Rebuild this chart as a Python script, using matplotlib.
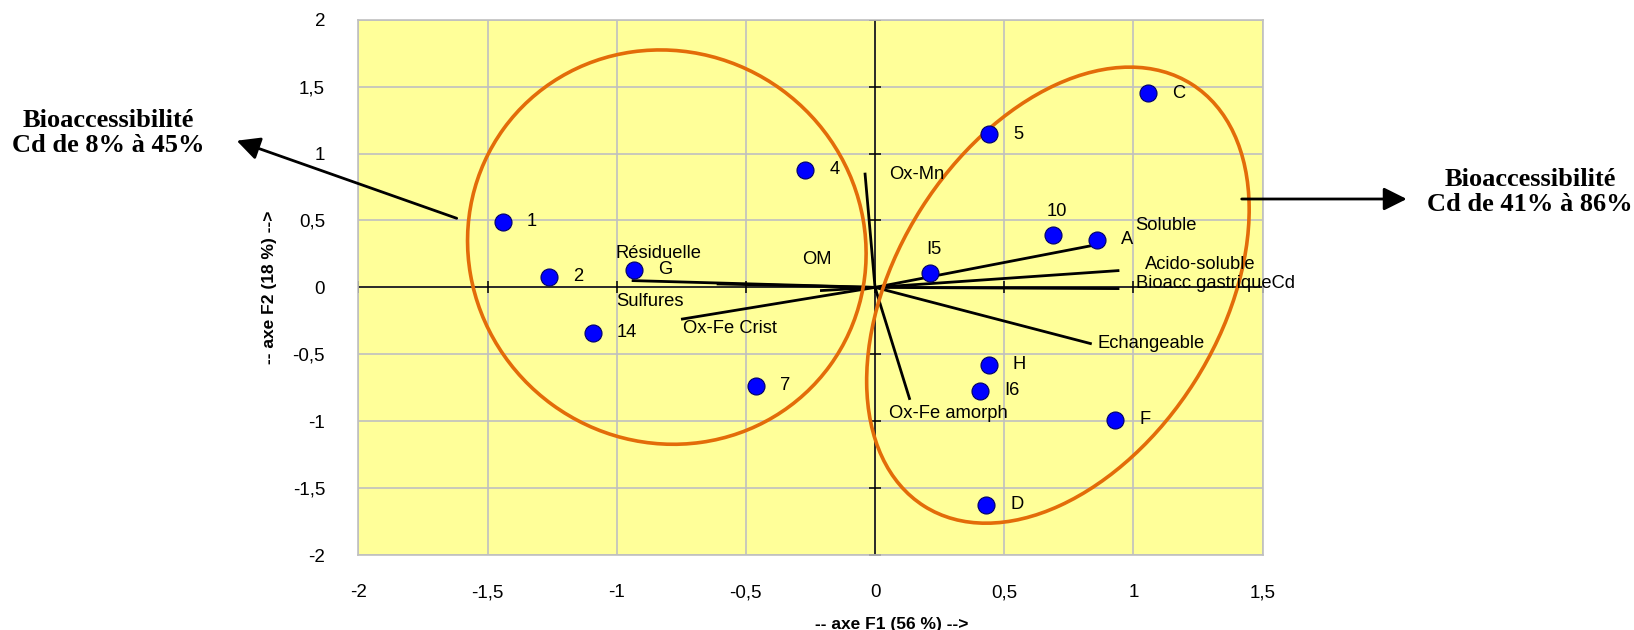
"""
ACP plot: samples and variables on F1/F2, with the two bioaccessibility groups.
"""

import matplotlib.pyplot as plt
from matplotlib.patches import Ellipse, FancyArrowPatch
from matplotlib import transforms

# samples (observations)
sample_names = ["1", "2", "G", "14", "7", "4", "5", "C", "10", "A", "I5", "H", "I6", "F", "D"]
sample_f1 = [-1.441, -1.262, -0.932, -1.093, -0.462, -0.271, 0.441, 1.056, 0.688, 0.859, 0.213, 0.440, 0.405, 0.929, 0.431]
sample_f2 = [0.489, 0.081, 0.131, -0.338, -0.736, 0.878, 1.146, 1.450, 0.392, 0.355, 0.106, -0.579, -0.771, -0.990, -1.624]

# variables (vectors from the origin)
var_names = ["Soluble", "Acido-soluble", "Bioacc gastriqueCd", "Echangeable", "Ox-Fe amorph",
             "Ox-Mn", "OM", "Résiduelle", "Sulfures", "Ox-Fe Crist"]
var_f1 = [0.852, 0.946, 0.946, 0.839, 0.135, -0.039, -0.213, -0.942, -0.613, -0.751]
var_f2 = [0.317, 0.126, -0.009, -0.422, -0.840, 0.857, -0.024, 0.051, 0.026, -0.238]
# where each variable name is written (left edge, centre)
var_label_f1 = [1.009, 1.045, 1.009, 0.861, 0.054, 0.054, -0.284, -1.004, -1.000, -0.742]
var_label_f2 = [0.459, 0.173, 0.031, -0.422, -0.940, 0.840, 0.210, 0.250, -0.106, -0.305]

ticks = [-2, -1.5, -1, -0.5, 0, 0.5, 1, 1.5, 2]
tick_labels = ["-2", "-1,5", "-1", "-0,5", "0", "0,5", "1", "1,5", "2"]

left_group_text = "Bioaccessibilité\nCd de 8% à 45%"
right_group_text = "Bioaccessibilité\nCd de 41% à 86%"

W, H, DPI = 1634, 630, 100
ORANGE = "#E36C09"


def px_ellipse(ax, fig, center, a_px, b_px, angle):
    """Ellipse sized in pixels, centred on a data point (keeps its shape on unequal axes)."""
    trans = fig.dpi_scale_trans + transforms.ScaledTranslation(center[0], center[1], ax.transData)
    e = Ellipse((0, 0), 2 * a_px / DPI, 2 * b_px / DPI, angle=angle,
                transform=trans, fill=False, edgecolor=ORANGE, linewidth=2.6, zorder=4)
    ax.add_patch(e)


def fig_arrow(fig, start_px, end_px):
    """Black arrow between two points given in figure pixels (top-left origin)."""
    a = FancyArrowPatch((start_px[0] / W, 1 - start_px[1] / H), (end_px[0] / W, 1 - end_px[1] / H),
                        transform=fig.transFigure, arrowstyle="-|>,head_length=0.7,head_width=0.35",
                        mutation_scale=20, color="black", linewidth=2, shrinkA=0, shrinkB=0)
    fig.add_artist(a)


def main():
    plt.rcParams["font.family"] = ["Liberation Sans", "DejaVu Sans"]
    fig = plt.figure(figsize=(W / DPI, H / DPI), dpi=DPI)
    ax = fig.add_axes([358.4 / W, 1 - 555.1 / H, 904.1 / W, 535.4 / H])

    ax.set_xlim(-2, 1.5)
    ax.set_ylim(-2, 2)
    ax.set_facecolor("#FFFF99")
    for s in ax.spines.values():
        s.set_color("#C0C0C0")
        s.set_linewidth(1.2)

    ax.set_xticks(ticks[:-1])
    ax.set_xticklabels(tick_labels[:-1], fontsize=13.5)
    ax.set_yticks(ticks)
    ax.set_yticklabels(tick_labels, fontsize=13.5)
    ax.tick_params(length=0, pad=21)
    ax.tick_params(axis="y", pad=24)
    ax.grid(True, color="#C0C0C0", linewidth=1.2)
    ax.set_axisbelow(True)

    # axes through the origin with little crossing ticks
    ax.axhline(0, color="black", linewidth=1.1, zorder=2)
    ax.axvline(0, color="black", linewidth=1.1, zorder=2)
    ax.plot(ticks[:-1], [0] * (len(ticks) - 1), linestyle="none", marker="|",
            markersize=9, color="black", markeredgewidth=1.1, zorder=2)
    ax.plot([0] * len(ticks), ticks, linestyle="none", marker="_",
            markersize=9, color="black", markeredgewidth=1.1, zorder=2)

    # variable vectors
    for name, x, y, lx, ly in zip(var_names, var_f1, var_f2, var_label_f1, var_label_f2):
        ax.plot([0, x], [0, y], color="black", linewidth=2, zorder=3, solid_capstyle="butt")
        ax.text(lx, ly, name, fontsize=13.2, ha="left", va="center", zorder=6)

    # samples
    ax.scatter(sample_f1, sample_f2, s=150, color="#0000FF", edgecolor="#000066",
               linewidth=0.8, zorder=5)
    for name, x, y in zip(sample_names, sample_f1, sample_f2):
        if name in ("10", "I5"):
            ax.annotate(name, (x, y), xytext=(3, 17), textcoords="offset points",
                        fontsize=13.2, ha="center", va="center", zorder=6)
        else:
            ax.annotate(name, (x, y), xytext=(17.5, 0), textcoords="offset points",
                        fontsize=13.2, ha="left", va="center", zorder=6)

    # the two groups
    px_ellipse(ax, fig, (-0.806, 0.301), 201.6, 194.8, -36)
    px_ellipse(ax, fig, (0.708, -0.058), 249.8, 161.8, 57.6)

    ax.set_xlabel("-- axe F1 (56 %) -->", fontsize=12.5, fontweight="bold")
    ax.set_ylabel("-- axe F2 (18 %) -->", fontsize=12.5, fontweight="bold")
    ax.xaxis.set_label_coords(0.59, -0.115)
    ax.yaxis.set_label_coords(-0.09, 0.5)

    # group annotations (figure pixel coordinates)
    fig.text(108 / W, 1 - 133 / H, left_group_text, ha="center", va="center",
             fontsize=19, fontweight="bold", family="Liberation Serif", linespacing=1.1)
    fig.text(1530 / W, 1 - 192 / H, right_group_text, ha="center", va="center",
             fontsize=19, fontweight="bold", family="Liberation Serif", linespacing=1.1)
    fig_arrow(fig, (456.7, 218.3), (236.7, 140.7))
    fig_arrow(fig, (1241.7, 199), (1406.7, 199))

    fig.savefig("out.png", dpi=DPI)
    plt.close(fig)


if __name__ == "__main__":
    main()
